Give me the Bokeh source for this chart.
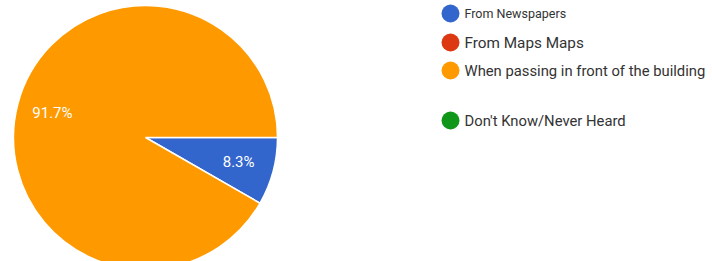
import math
from bokeh.plotting import figure
from bokeh.models import Range1d, ColumnDataSource
from bokeh.core.properties import value
from bokeh.embed import file_html
from bokeh.resources import INLINE

# ---- data ----
categories = ["From Newspapers", "From Maps Maps",
              "When passing in front of the building", "Don't Know/Never Heard"]
values = [8.3, 0.0, 91.7, 0.0]
colors = ["#3366cc", "#dc3912", "#ff9900", "#109618"]

# ---- styles / layout ----
legend_font_sizes = ["12.5px", "15.3px", "14.8px", "14.8px"]
legend_y = [248, 219, 191, 141]   # data coords (page y = 261 - y)
FONT = "Roboto"

W, H = 712, 261
p = figure(width=W, height=H, output_backend="svg", toolbar_location=None,
           x_range=Range1d(0, W), y_range=Range1d(0, H),
           min_border=0, outline_line_color=None, background_fill_color="white",
           border_fill_color="white")
p.axis.visible = False
p.grid.visible = False

cx, cy, r = 145, 124, 132
total = sum(values)
starts, ends, wc, lx, ly, lt = [], [], [], [], [], []
cum = 0.0
for v, c in zip(values, colors):
    if v <= 0:
        continue
    a0 = -2 * math.pi * cum / total
    a1 = -2 * math.pi * (cum + v) / total
    starts.append(a0)
    ends.append(a1)
    wc.append(c)
    mid = (a0 + a1) / 2
    lx.append(cx + 0.73 * r * math.cos(mid))
    ly.append(cy + 0.73 * r * math.sin(mid))
    lt.append(f"{100 * v / total:.1f}%")
    cum += v

src = ColumnDataSource(dict(s=starts, e=ends, c=wc))
p.wedge(x=cx, y=cy, radius=r, start_angle="s", end_angle="e", direction="clock",
        fill_color="c", line_color="white", line_width=1.5, source=src)
p.text(x=lx, y=ly, text=lt, text_color="white", text_font=value(FONT),
       text_font_size="15px", text_align="center", text_baseline="middle")

# legend
for cat, col, fs, y in zip(categories, colors, legend_font_sizes, legend_y):
    p.scatter(x=[450], y=[y], size=18, marker="circle", fill_color=col, line_color=None)
    p.text(x=[464], y=[y], text=[cat], text_color="#333333", text_font=value(FONT),
           text_font_size=fs, text_align="left", text_baseline="middle")

open("out.html", "w").write(file_html(p, INLINE))
